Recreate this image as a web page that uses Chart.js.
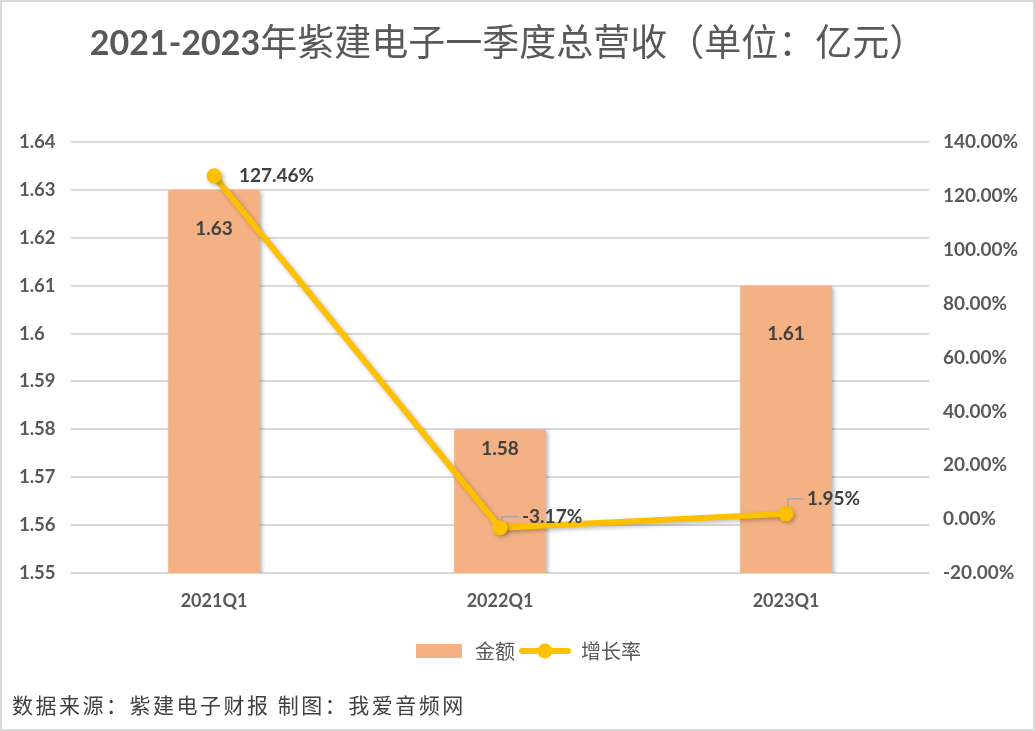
<!DOCTYPE html>
<html lang="zh">
<head>
  <meta charset="UTF-8" />
  <title>紫建电子一季度总营收</title>
  <style>
    body {
      margin: 0;
      background: #ffffff;
    }
    #wrap {
      width: 1035px;
      height: 731px;
      position: relative;
    }
  </style>
</head>
<body>
  <div id="wrap">
    <canvas id="chart" width="1035" height="731"></canvas>
  </div>

  <script src="https://cdn.jsdelivr.net/npm/chart.js"></script>
  <script>
    // data
    const quarters = ["2021Q1", "2022Q1", "2023Q1"];
    const revenue = [1.63, 1.58, 1.61];          // 金额 (亿元)
    const growth = [127.46, -3.17, 1.95];        // 增长率 (%)

    const leftTicks = { min: 1.55, max: 1.64, step: 0.01 };
    const rightTicks = { min: -20, max: 140, step: 20 };

    const barColor = "#F4B183";
    const lineColor = "#FFC000";
    const textColor = "#595959";
    const gridColor = "#D9D9D9";
    const numFont = "Lato, 'Liberation Sans', sans-serif";
    const cjkFont = "'Noto Sans CJK SC', sans-serif";

    // legend icons
    function barIcon() {
      const c = document.createElement("canvas");
      c.width = 52; c.height = 16;
      const g = c.getContext("2d");
      g.fillStyle = barColor;
      g.fillRect(3, 1, 46, 14);
      return c;
    }
    function lineIcon() {
      const c = document.createElement("canvas");
      c.width = 52; c.height = 18;
      const g = c.getContext("2d");
      g.strokeStyle = lineColor;
      g.lineWidth = 6;
      g.lineCap = "round";
      g.beginPath(); g.moveTo(3, 9); g.lineTo(49, 9); g.stroke();
      g.fillStyle = lineColor;
      g.beginPath(); g.arc(26, 9, 7.5, 0, Math.PI * 2); g.fill();
      return c;
    }

    // title, source, border and data labels
    const decor = {
      id: "decor",
      beforeDatasetDraw(chart, args) {
        const ctx = chart.ctx;
        ctx.save();
        ctx.shadowColor = "rgba(0,0,0,0.28)";
        ctx.shadowBlur = 4;
        ctx.shadowOffsetX = 2;
        ctx.shadowOffsetY = 2;
      },
      afterDatasetDraw(chart) {
        chart.ctx.restore();
      },
      afterDraw(chart) {
        const ctx = chart.ctx;
        ctx.save();

        // title
        ctx.textBaseline = "middle";
        ctx.fillStyle = textColor;
        const part1 = "2021-2023";
        const part2 = "年紫建电子一季度总营收（单位：亿元）";
        ctx.font = "bold 34px " + numFont;
        const w1 = ctx.measureText(part1).width;
        ctx.font = "37px " + cjkFont;
        const w2 = ctx.measureText(part2).width;
        let x0 = 508 - (w1 + w2) / 2;
        ctx.font = "bold 34px " + numFont;
        ctx.textAlign = "left";
        ctx.fillText(part1, x0, 44);
        ctx.font = "37px " + cjkFont;
        ctx.fillText(part2, x0 + w1, 42);

        // source
        ctx.font = "21px " + cjkFont;
        ctx.fillStyle = "#404040";
        ctx.letterSpacing = "2.5px";
        ctx.fillText("数据来源：紫建电子财报 制图：我爱音频网", 12, 705);
        ctx.letterSpacing = "0px";

        // bar labels
        const barMeta = chart.getDatasetMeta(0);
        const barOffset = [39, 20, 48];
        ctx.font = "bold 19px " + numFont;
        ctx.fillStyle = "#404040";
        ctx.textAlign = "center";
        barMeta.data.forEach((bar, i) => {
          ctx.fillText(revenue[i].toFixed(2), bar.x, bar.y + barOffset[i]);
        });

        // line labels with small leader marks
        const lineMeta = chart.getDatasetMeta(1);
        const lblShift = [[25, 0], [22, -11], [21, -15]];
        ctx.textAlign = "left";
        lineMeta.data.forEach((pt, i) => {
          const tx = pt.x + lblShift[i][0];
          const ty = pt.y + lblShift[i][1];
          if (lblShift[i][1] !== 0) {
            ctx.strokeStyle = "#A6A6A6";
            ctx.lineWidth = 1.5;
            ctx.beginPath();
            ctx.moveTo(pt.x + 2, pt.y - 6);
            ctx.lineTo(pt.x + 2, ty);
            ctx.lineTo(tx - 3, ty);
            ctx.stroke();
          }
          ctx.fillStyle = "#404040";
          ctx.fillText(growth[i].toFixed(2) + "%", tx, ty);
        });

        // outer border
        ctx.strokeStyle = "#D9D9D9";
        ctx.lineWidth = 2;
        ctx.strokeRect(1, 1, chart.width - 2, chart.height - 2);
        ctx.restore();
      }
    };

    new Chart(document.getElementById("chart"), {
      data: {
        labels: quarters,
        datasets: [
          {
            type: "bar",
            label: "金额",
            data: revenue,
            backgroundColor: barColor,
            yAxisID: "y",
            barPercentage: 0.32,
            categoryPercentage: 1,
            order: 2
          },
          {
            type: "line",
            label: "增长率",
            data: growth,
            borderColor: lineColor,
            backgroundColor: lineColor,
            borderWidth: 6,
            pointRadius: 7.5,
            pointHoverRadius: 7.5,
            pointBackgroundColor: lineColor,
            pointBorderWidth: 0,
            yAxisID: "y1",
            order: 1
          }
        ]
      },
      options: {
        responsive: false,
        animation: false,
        layout: { padding: { top: 142, left: 19, right: 0, bottom: 60 } },
        plugins: {
          tooltip: { enabled: false },
          title: { display: false },
          legend: {
            position: "bottom",
            labels: {
              usePointStyle: true,
              pointStyleWidth: 52,
              boxHeight: 16,
              padding: 4,
              color: textColor,
              font: { family: cjkFont, size: 20 },
              generateLabels(chart) {
                return chart.data.datasets.map((ds, i) => ({
                  text: ds.label,
                  pointStyle: i === 0 ? barIcon() : lineIcon(),
                  fontColor: textColor,
                  lineWidth: 0,
                  datasetIndex: i
                }));
              }
            }
          }
        },
        scales: {
          x: {
            grid: { display: false },
            border: { display: false },
            ticks: {
              color: textColor,
              font: { family: numFont, size: 18, weight: "bold" },
              padding: 9
            },
            afterFit(axis) { axis.height = 64; }
          },
          y: {
            position: "left",
            min: leftTicks.min,
            max: leftTicks.max,
            grid: { color: gridColor, lineWidth: 2, drawTicks: false },
            border: { display: false },
            ticks: {
              stepSize: leftTicks.step,
              crossAlign: "far",
              color: textColor,
              font: { family: numFont, size: 18.5, weight: "bold" },
              callback: v => String(Number(v.toFixed(2)))
            },
            afterFit(axis) { axis.width = 52; }
          },
          y1: {
            position: "right",
            min: rightTicks.min,
            max: rightTicks.max,
            grid: { display: false, drawTicks: false },
            border: { display: false },
            ticks: {
              stepSize: rightTicks.step,
              crossAlign: "near",
              padding: 14,
              color: textColor,
              font: { family: numFont, size: 19, weight: "bold" },
              callback: v => v.toFixed(2) + "%"
            },
            afterFit(axis) { axis.width = 106; }
          }
        }
      },
      plugins: [decor]
    });
  </script>
</body>
</html>
